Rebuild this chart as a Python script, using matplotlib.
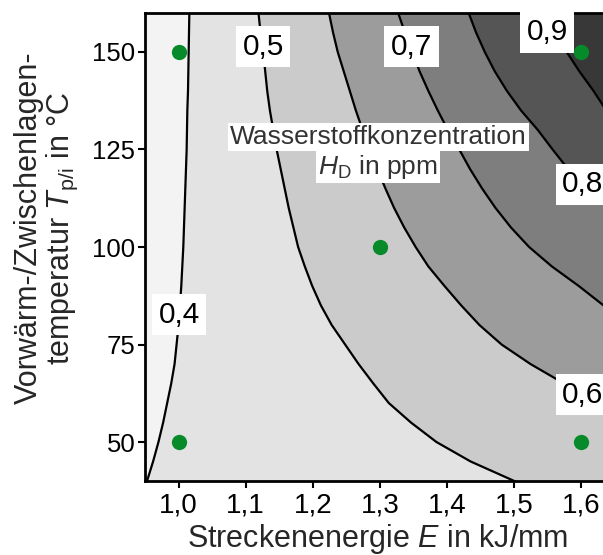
import matplotlib.pyplot as plt

plt.rcParams['font.family'] = ['Liberation Sans', 'DejaVu Sans']
plt.rcParams['mathtext.fontset'] = 'custom'
plt.rcParams['mathtext.rm'] = 'Liberation Sans'
plt.rcParams['mathtext.it'] = 'Liberation Sans:italic'

# preheat/interpass temperature rows (degC) at which the contour positions were read
temp = [160, 155, 150, 145, 140, 135, 130, 125, 120, 115, 110, 105, 100,
        95, 90, 85, 80, 75, 70, 65, 60, 55, 50, 45, 40]

# line energy E (kJ/mm) where each contour level crosses the row above
e_04 = [1.016, 1.0155, 1.015, 1.0145, 1.014, 1.013, 1.0125, 1.012, 1.011, 1.010,
        1.009, 1.008, 1.007, 1.0055, 1.004, 1.002, 1.000, 0.997, 0.994, 0.989,
        0.983, 0.977, 0.970, 0.962, 0.953]
e_05 = [1.119, 1.122, 1.126, 1.129, 1.132, 1.136, 1.141, 1.146, 1.152, 1.158,
        1.164, 1.171, 1.178, 1.188, 1.199, 1.212, 1.228, 1.248, 1.268, 1.290,
        1.313, 1.346, 1.384, 1.435, 1.500]
e_06 = [1.224, 1.230, 1.237, 1.246, 1.255, 1.264, 1.274, 1.285, 1.296, 1.308,
        1.321, 1.336, 1.353, 1.372, 1.396, 1.421, 1.448, 1.481, 1.524, 1.574,
        1.660, 1.760, 1.870, 1.980, 2.100]
e_07 = [1.327, 1.337, 1.348, 1.359, 1.372, 1.386, 1.401, 1.418, 1.434, 1.452,
        1.472, 1.495, 1.522, 1.556, 1.596, 1.633, 1.680, 1.730, 1.790, 1.860,
        1.930, 2.010, 2.090, 2.170, 2.250]
e_08 = [1.432, 1.443, 1.456, 1.471, 1.489, 1.510, 1.535, 1.557, 1.580, 1.604,
        1.640, 1.680, 1.720, 1.770, 1.820, 1.880, 1.940, 2.000, 2.060, 2.120,
        2.180, 2.250, 2.310, 2.370, 2.440]
e_09 = [1.540, 1.556, 1.578, 1.597, 1.618, 1.637, 1.660, 1.690, 1.720, 1.760,
        1.800, 1.840, 1.880, 1.930, 1.980, 2.030, 2.080, 2.130, 2.190, 2.250,
        2.310, 2.370, 2.430, 2.490, 2.550]

levels = ['0,4', '0,5', '0,6', '0,7', '0,8', '0,9']
label_E = [1.001, 1.126, 1.602, 1.347, 1.602, 1.549]
label_T = [82.6, 151.4, 62.1, 151.4, 116.1, 155.1]

# design points
pts_E = [1.0, 1.0, 1.3, 1.6, 1.6]
pts_T = [150, 50, 100, 150, 50]

xticks = [1.0, 1.1, 1.2, 1.3, 1.4, 1.5, 1.6]
xticklabels = ['1,0', '1,1', '1,2', '1,3', '1,4', '1,5', '1,6']
yticks = [50, 75, 100, 125, 150]

band_colors = ['#e3e3e3', '#cbcbcb', '#9c9c9c', '#7e7e7e', '#555555', '#383838']

fig = plt.figure(figsize=(6.03, 5.55), dpi=100)
ax = fig.add_axes([0.2405, 0.1333, 1.02 - 0.2405, 0.9766 - 0.1333])
ax.set_facecolor('#f3f3f3')

lines = [e_04, e_05, e_06, e_07, e_08, e_09]
for i, e in enumerate(lines):
    upper = lines[i + 1] if i + 1 < len(lines) else [3.0] * len(temp)
    ax.fill_betweenx(temp, e, upper, color=band_colors[i], lw=0, zorder=1)
for e in lines:
    ax.plot(e, temp, color='black', lw=1.6, zorder=2)

for lab, x, y in zip(levels, label_E, label_T):
    ax.text(x, y, lab, fontsize=21.5, ha='center', va='center', zorder=4,
            bbox=dict(boxstyle='square,pad=0.22', fc='white', ec='none'))

# the legend text sits on two separate white boxes
ax.text(1.297, 128.2, 'Wasserstoffkonzentration', fontsize=19,
        color='#333333', ha='center', va='center', zorder=4,
        bbox=dict(boxstyle='square,pad=0.08', fc='white', ec='none'))
ax.text(1.297, 120.6, '$H_{\\mathrm{D}}$ in ppm', fontsize=19,
        color='#333333', ha='center', va='center', zorder=4,
        bbox=dict(boxstyle='square,pad=0.08', fc='white', ec='none'))

ax.plot(pts_E, pts_T, 'o', color='#078a2a', ms=11, mec='none', zorder=5,
        clip_on=False)

ax.set_xlim(0.95, 1.65)
ax.set_ylim(40, 160)
ax.set_xticks(xticks)
ax.set_xticklabels(xticklabels)
ax.set_yticks(yticks)
ax.tick_params(direction='out', length=5, width=1.5, labelsize=20, pad=3)
ax.tick_params(axis='y', labelsize=18.5, pad=2)
for s in ax.spines.values():
    s.set_linewidth(2)

fig.text(0.627, 0.014, 'Streckenenergie $E$ in kJ/mm', fontsize=22,
         color='#262626', ha='center', va='baseline')
fig.text(0.0775, 0.589,
         'Vorwärm-/Zwischenlagen-\ntemperatur $T_{\\mathrm{p/i}}$ in °C',
         fontsize=22, color='#262626', rotation=90, ha='center', va='center',
         multialignment='center', linespacing=1.05)

fig.savefig('out.png', dpi=100)
